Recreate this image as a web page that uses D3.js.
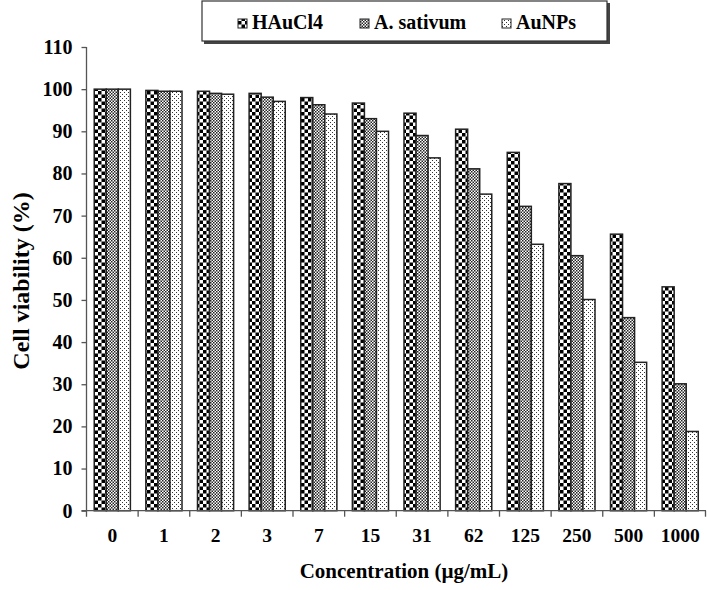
<!DOCTYPE html>
<html><head><meta charset="utf-8">
<script src="https://cdn.jsdelivr.net/npm/d3@7"></script>
<style>
body{margin:0;background:#fff;}
svg{display:block;}
</style></head>
<body><svg id="chart" width="707" height="590"></svg>
<script>
const categories = ["0","1","2","3","7","15","31","62","125","250","500","1000"];
const seriesNames = ["HAuCl4","A. sativum","AuNPs"];
const hauc14 = [100, 99.7, 99.5, 99.0, 98.0, 96.7, 94.3, 90.5, 85.0, 77.6, 65.6, 53.1];
const sativum = [100, 99.5, 99.0, 98.1, 96.3, 93.0, 89.0, 81.1, 72.2, 60.5, 45.8, 30.1];
const aunps = [100, 99.5, 98.8, 97.1, 94.1, 90.0, 83.7, 75.1, 63.2, 50.1, 35.2, 18.8];
const yTicks = [0,10,20,30,40,50,60,70,80,90,100,110];
const seriesValues = [hauc14, sativum, aunps];
const patternIds = ["pCheck","pFine","pDots"];
const FONT = "Liberation Serif";

(function(){
const svg = d3.select("#chart");
const defs = svg.append("defs");
let p = defs.append("pattern").attr("id","pCheck").attr("patternUnits","userSpaceOnUse").attr("width",7).attr("height",7);
p.append("rect").attr("width",7).attr("height",7).attr("fill","#fff");
p.append("rect").attr("width",3.5).attr("height",3.5).attr("fill","#000");
p.append("rect").attr("x",3.5).attr("y",3.5).attr("width",3.5).attr("height",3.5).attr("fill","#000");
p = defs.append("pattern").attr("id","pFine").attr("patternUnits","userSpaceOnUse").attr("width",3).attr("height",3);
p.append("rect").attr("width",3).attr("height",3).attr("fill","#fff");
p.append("rect").attr("width",1.5).attr("height",1.5).attr("fill","#222");
p.append("rect").attr("x",1.5).attr("y",1.5).attr("width",1.5).attr("height",1.5).attr("fill","#222");
p = defs.append("pattern").attr("id","pDots").attr("patternUnits","userSpaceOnUse").attr("width",4).attr("height",4);
p.append("rect").attr("width",4).attr("height",4).attr("fill","#fff");
p.append("rect").attr("x",0).attr("y",0).attr("width",1).attr("height",1).attr("fill","#333");
p.append("rect").attr("x",2).attr("y",2).attr("width",1).attr("height",1).attr("fill","#333");

const pl = 86.5, pr = 706, pt = 47, pb = 510.7;
const x = d3.scaleBand().domain(categories).range([pl, pr]).paddingInner(0.3).paddingOuter(0.15);
const xb = d3.scaleBand().domain(categories).range([pl, pr]);
const xs = d3.scaleBand().domain(seriesNames).range([0, x.bandwidth()]);
const y = d3.scaleLinear().domain([0,110]).range([pb, pt]);

categories.forEach((c, i) => {
  seriesValues.forEach((vals, s) => {
    svg.append("rect")
      .attr("x", x(c) + xs(seriesNames[s]))
      .attr("y", y(vals[i]))
      .attr("width", xs.bandwidth())
      .attr("height", y(0) - y(vals[i]))
      .attr("fill", `url(#${patternIds[s]})`)
      .attr("stroke", "#222").attr("stroke-width", 1.5);
  });
});

const yAxis = svg.append("g").attr("transform", `translate(${pl},0)`)
  .call(d3.axisLeft(y).tickValues(yTicks).tickSize(5).tickPadding(9));
yAxis.select(".domain").attr("stroke","#555").attr("stroke-width",1.3).attr("d", `M0,${pt}V${pb+6}`);
yAxis.selectAll(".tick line").attr("stroke","#555").attr("stroke-width",1.3);
yAxis.selectAll("text").attr("font-size",20).attr("font-family",FONT).attr("font-weight","bold").attr("fill","#000");

const xAxis = svg.append("g").attr("transform", `translate(0,${pb})`)
  .call(d3.axisBottom(xb).tickSize(0).tickPadding(17));
xAxis.select(".domain").attr("stroke","#555").attr("stroke-width",1.3).attr("d", `M${pl-5},0H${pr}`);
xAxis.selectAll("text").attr("font-size",19.5).attr("font-family",FONT).attr("font-weight","bold").attr("fill","#000");
svg.append("g").selectAll("line").data(categories.slice(1).concat(["__end"])).join("line")
  .attr("x1", d => d === "__end" ? pr - 0.5 : xb(d)).attr("x2", d => d === "__end" ? pr - 0.5 : xb(d))
  .attr("y1", pb).attr("y2", pb + 6).attr("stroke","#555").attr("stroke-width",1.3);

svg.append("text").attr("x", 404).attr("y", 578).attr("text-anchor","middle")
  .attr("font-family",FONT).attr("font-weight","bold")
  .attr("font-size",21).text("Concentration (µg/mL)");
svg.append("text").attr("transform", `translate(29,281) rotate(-90)`).attr("text-anchor","middle")
  .attr("font-family",FONT).attr("font-weight","bold")
  .attr("font-size",24).text("Cell viability (%)");

const lg = svg.append("g");
lg.append("rect").attr("x",204).attr("y",3).attr("width",406).attr("height",41).attr("fill","#444");
lg.append("rect").attr("x",202).attr("y",1).attr("width",405).attr("height",40).attr("fill","#fff").attr("stroke","#333").attr("stroke-width",1.2);
const legX = [238, 360, 502];
seriesNames.forEach((n, s) => {
  lg.append("rect").attr("x", legX[s]).attr("y", 19).attr("width", 9).attr("height", 9)
    .attr("fill", `url(#${patternIds[s]})`).attr("stroke","#222").attr("stroke-width",1);
  lg.append("text").attr("x", legX[s] + 14).attr("y", 29).attr("font-size",20)
    .attr("font-family",FONT).attr("font-weight","bold").text(n);
});
})();
</script></body></html>
